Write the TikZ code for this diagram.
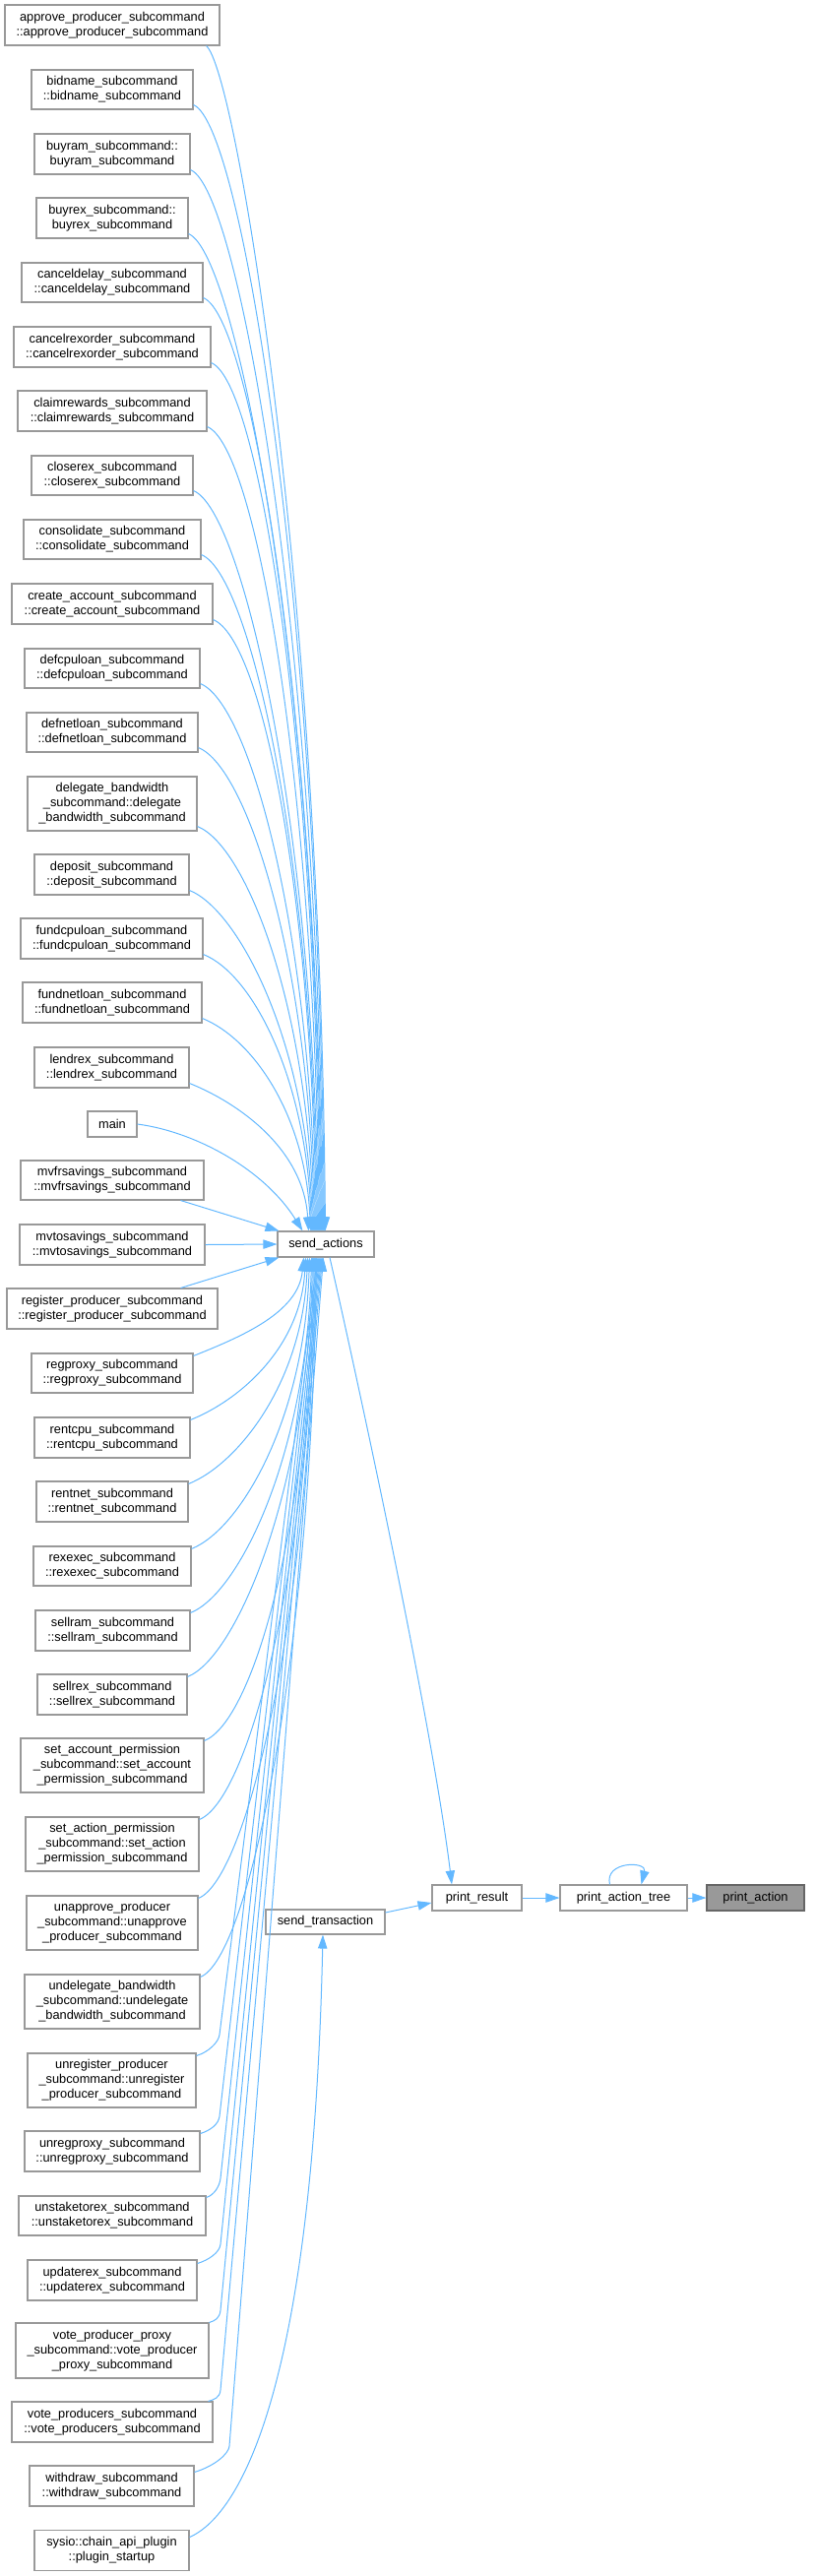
\documentclass[tikz,border=0pt]{standalone}
\usepackage{fontspec}
\setmainfont{Liberation Sans}
\usetikzlibrary{arrows.meta,calc}
\definecolor{edgec}{HTML}{63B8FF}
\definecolor{boxc}{HTML}{999999}
\definecolor{rootf}{HTML}{999999}
\definecolor{rootd}{HTML}{666666}
\tikzset{
  box/.style={draw=boxc, line width=0.8pt, fill=white, inner sep=0pt, align=center,
    font=\fontsize{9.6pt}{11.25pt}\selectfont},
  rootbox/.style={box, fill=rootf, draw=rootd},
  edge/.style={draw=edgec, line width=0.75pt, -{Triangle[length=10.5pt,width=7pt]}},
}
\newcommand\bx[7][box]{\node[#1, minimum width={(#5-#3)*0.75pt}, minimum height={(#6-#4)*0.75pt}] (#2) at ({(#3+#5)/2},{(#4+#6)/2}) {#7};}
% upper fan: #2 start, #3 ys, #4 xe
\newcommand\upedge[4][50,20]{\draw[edge] #2 .. controls +(#1) and +(-5,{-0.55*(1251-#3)}) .. ($(sa.north west)+({#4-282},0)$);}
% lower fan (smooth): #1 start, #2 ys, #3 xe
\newcommand\lowedge[3]{\draw[edge] #1 .. controls +(50,-20) and +(-5,{0.55*(#2-1277)}) .. ($(sa.south west)+({#3-282},0)$);}
% lower fan (elbow): #1 start, #2 ex, #3 ey, #4 xe, #5 k
\newcommand\elbowedge[5]{\draw[edge] #1 .. controls +(#5,{-0.3*#5}) and +({-8*(#4-#2)/(#3-1277)},8) .. (#2,#3) -- ($(sa.south west)+({#4-282},0)$);}
\begin{document}
\begin{tikzpicture}[x=0.75pt,y=-0.75pt]
\useasboundingbox (0,0) rectangle (831,2617);
% left column
\bx{approve}{5}{5}{223}{46}{approve\_producer\_subcommand\\::approve\_producer\_subcommand}
\bx{bidname}{32}{71}{196}{111}{bidname\_subcommand\\::bidname\_subcommand}
\bx{buyram}{35}{136}{193}{177}{buyram\_subcommand::\\buyram\_subcommand}
\bx{buyrex}{37}{201}{191}{242}{buyrex\_subcommand::\\buyrex\_subcommand}
\bx{canceldelay}{22}{267}{206}{307}{canceldelay\_subcommand\\::canceldelay\_subcommand}
\bx{cancelrex}{14}{332}{214}{373}{cancelrexorder\_subcommand\\::cancelrexorder\_subcommand}
\bx{claim}{18}{397}{210}{438}{claimrewards\_subcommand\\::claimrewards\_subcommand}
\bx{closerex}{32}{463}{196}{503}{closerex\_subcommand\\::closerex\_subcommand}
\bx{consolidate}{24}{528}{204}{568}{consolidate\_subcommand\\::consolidate\_subcommand}
\bx{create}{12}{593}{216}{634}{create\_account\_subcommand\\::create\_account\_subcommand}
\bx{defcpu}{25}{659}{203}{699}{defcpuloan\_subcommand\\::defcpuloan\_subcommand}
\bx{defnet}{27}{724}{201}{764}{defnetloan\_subcommand\\::defnetloan\_subcommand}
\bx{delegate}{28}{789}{200}{844}{delegate\_bandwidth\\\_subcommand::delegate\\\_bandwidth\_subcommand}
\bx{deposit}{35}{868}{192}{909}{deposit\_subcommand\\::deposit\_subcommand}
\bx{fundcpu}{21}{933}{206}{974}{fundcpuloan\_subcommand\\::fundcpuloan\_subcommand}
\bx{fundnet}{23}{998}{205}{1039}{fundnetloan\_subcommand\\::fundnetloan\_subcommand}
\bx{lendrex}{35}{1064}{192}{1105}{lendrex\_subcommand\\::lendrex\_subcommand}
\bx{main}{89}{1129}{139}{1155}{main}
\bx{mvfr}{21}{1179}{207}{1219}{mvfrsavings\_subcommand\\::mvfrsavings\_subcommand}
\bx{mvto}{20}{1244}{208}{1285}{mvtosavings\_subcommand\\::mvtosavings\_subcommand}
\bx{register}{7}{1309}{221}{1350}{register\_producer\_subcommand\\::register\_producer\_subcommand}
\bx{regproxy}{32}{1375}{196}{1415}{regproxy\_subcommand\\::regproxy\_subcommand}
\bx{rentcpu}{35}{1440}{193}{1481}{rentcpu\_subcommand\\::rentcpu\_subcommand}
\bx{rentnet}{37}{1505}{191}{1546}{rentnet\_subcommand\\::rentnet\_subcommand}
\bx{rexexec}{34}{1571}{194}{1611}{rexexec\_subcommand\\::rexexec\_subcommand}
\bx{sellram}{36}{1636}{193}{1677}{sellram\_subcommand\\::sellram\_subcommand}
\bx{sellrex}{38}{1701}{190}{1742}{sellrex\_subcommand\\::sellrex\_subcommand}
\bx{setacc}{21}{1766}{207}{1821}{set\_account\_permission\\\_subcommand::set\_account\\\_permission\_subcommand}
\bx{setact}{26}{1846}{202}{1901}{set\_action\_permission\\\_subcommand::set\_action\\\_permission\_subcommand}
\bx{unapprove}{27}{1926}{201}{1981}{unapprove\_producer\\\_subcommand::unapprove\\\_producer\_subcommand}
\bx{undelegate}{25}{2006}{203}{2061}{undelegate\_bandwidth\\\_subcommand::undelegate\\\_bandwidth\_subcommand}
\bx{unregister}{28}{2086}{199}{2141}{unregister\_producer\\\_subcommand::unregister\\\_producer\_subcommand}
\bx{unregproxy}{25}{2165}{203}{2206}{unregproxy\_subcommand\\::unregproxy\_subcommand}
\bx{unstake}{19}{2231}{209}{2271}{unstaketorex\_subcommand\\::unstaketorex\_subcommand}
\bx{updaterex}{28}{2296}{200}{2337}{updaterex\_subcommand\\::updaterex\_subcommand}
\bx{voteproxy}{16}{2360}{212}{2416}{vote\_producer\_proxy\\\_subcommand::vote\_producer\\\_proxy\_subcommand}
\bx{voteprod}{12}{2440}{216}{2481}{vote\_producers\_subcommand\\::vote\_producers\_subcommand}
\bx{withdraw}{30}{2505}{197}{2546}{withdraw\_subcommand\\::withdraw\_subcommand}
\bx{sysio}{35}{2570}{192}{2611}{sysio::chain\_api\_plugin\\::plugin\_startup}
% middle and right
\bx{sa}{282}{1251}{380}{1277}{send\_actions}
\bx{st}{270}{1940}{391}{1965}{send\_transaction}
\bx{pr}{439}{1915}{530}{1941}{print\_result}
\bx{pat}{569}{1915}{698}{1941}{print\_action\_tree}
\bx[rootbox]{pa}{718}{1915}{817}{1941}{print\_action}
% upper fan into send_actions
\upedge[30,25]{($(approve.south east)+(-14,0)$)}{46}{331}
\upedge{($(bidname.south east)+(0,-5)$)}{106}{330}
\upedge{($(buyram.south east)+(0,-5)$)}{172}{329}
\upedge{($(buyrex.south east)+(0,-5)$)}{237}{328}
\upedge{($(canceldelay.south east)+(0,-5)$)}{302}{327}
\upedge{($(cancelrex.south east)+(0,-5)$)}{368}{326}
\upedge{($(claim.south east)+(0,-5)$)}{433}{325}
\upedge{($(closerex.south east)+(0,-5)$)}{498}{324}
\upedge{($(consolidate.south east)+(0,-5)$)}{563}{323}
\upedge{($(create.south east)+(0,-5)$)}{629}{322}
\upedge{($(defcpu.south east)+(0,-5)$)}{694}{321}
\upedge{($(defnet.south east)+(0,-5)$)}{759}{320}
\upedge{($(delegate.south east)+(0,-5)$)}{839}{319}
\upedge{($(deposit.south east)+(0,-5)$)}{904}{318}
\upedge{($(fundcpu.south east)+(0,-5)$)}{969}{317}
\upedge{($(fundnet.south east)+(0,-5)$)}{1034}{316}
\upedge{($(lendrex.south east)+(0,-5)$)}{1100}{314}
\draw[edge] (main.east) .. controls +(61,8) and +(-38,-61) .. ($(sa.north west)+(26,0)$);
\draw[edge] ($(mvfr.south east)+(-24,0)$) -- ($(sa.north west)+(2,0)$);
\draw[edge] (mvto.east) -- (sa.west);
\draw[edge] ($(register.north east)+(-38,0)$) -- ($(sa.south west)+(2,0)$);
% lower fan into send_actions
\lowedge{($(regproxy.north east)+(0,3)$)}{1378}{309}
\lowedge{($(rentcpu.north east)+(0,3)$)}{1443}{311}
\lowedge{($(rentnet.north east)+(0,3)$)}{1508}{313}
\lowedge{($(rexexec.north east)+(0,3)$)}{1574}{315}
\lowedge{($(sellram.north east)+(0,3)$)}{1639}{317}
\lowedge{($(sellrex.north east)+(0,3)$)}{1704}{318}
\lowedge{($(setacc.north east)+(0,3)$)}{1769}{319}
\lowedge{($(setact.north east)+(0,3)$)}{1849}{320}
\lowedge{($(unapprove.north east)+(0,3)$)}{1929}{321}
\lowedge{($(undelegate.north east)+(0,3)$)}{2009}{322}
\elbowedge{($(unregister.north east)+(0,3)$)}{223}{2067}{323}{12}
\elbowedge{($(unregproxy.north east)+(0,3)$)}{223}{2150}{324}{10}
\elbowedge{($(unstake.north east)+(0,2)$)}{224}{2213}{325}{8}
\elbowedge{($(updaterex.north east)+(0,4)$)}{224}{2280}{326}{12}
\elbowedge{(voteproxy.north east)}{224}{2347}{327}{6}
\elbowedge{($(voteprod.north east)+(-5,0)$)}{224}{2428}{328}{6}
\elbowedge{($(withdraw.north east)+(0,7)$)}{233}{2485}{329}{20}
% right part
\draw[edge] (sysio.east) ++(0,-13) .. controls +(53,-23) and +(-10,455) .. ($(st.south)+(-2.5,0)$);
\draw[edge] ($(sa.south)+(4,0)$) .. controls +(37,163) and +(-19,-155) .. ($(pr.north)+(-25.5,0)$);
\draw[edge] ($(st.east)+(0,-9.5)$) -- ($(pr.west)+(0,5)$);
\draw[edge] (pr.east) -- (pat.west);
\draw[edge] (pat.east) -- (pa.west);
\draw[edge] ($(pat.north)+(-14,0)$) .. controls +(-6,-24) and +(6,-24) .. ($(pat.north)+(18,0)$);
\end{tikzpicture}
\end{document}
